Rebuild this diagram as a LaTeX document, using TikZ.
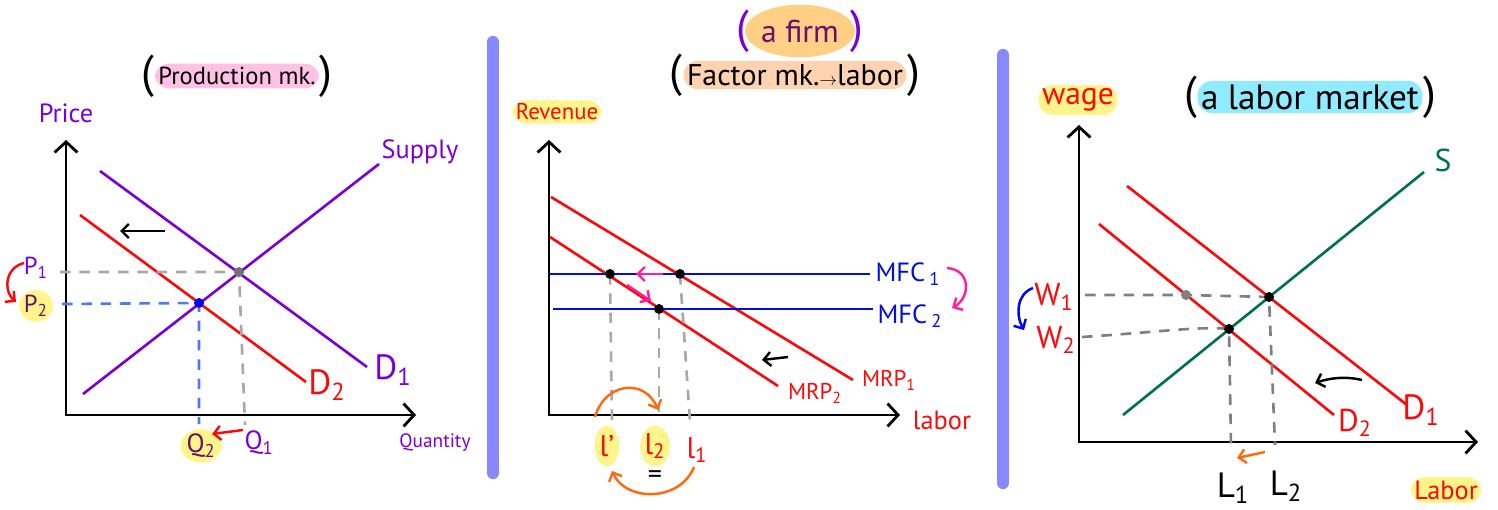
\documentclass[tikz,border=0pt]{standalone}
\usepackage{fontspec}
\setmainfont{PT Sans}
\usetikzlibrary{arrows.meta,positioning,shapes.geometric}
\definecolor{plum}{HTML}{7A00D6}
\definecolor{darkplum}{HTML}{6B0F6B}
\definecolor{redln}{HTML}{FA0A0A}
\definecolor{mfcblue}{HTML}{0010D8}
\definecolor{guidegray}{HTML}{A8A8A8}
\definecolor{darkgray}{HTML}{808080}
\definecolor{guideblue}{HTML}{5078F0}
\definecolor{greenS}{HTML}{00704F}
\definecolor{barblue}{HTML}{8888FF}
\definecolor{pinkarr}{HTML}{FF1E9E}
\definecolor{orangearr}{HTML}{FF6A10}
\definecolor{yellowhl}{HTML}{FFF58A}
\definecolor{pinkhl}{HTML}{FFC2E6}
\definecolor{peachhl}{HTML}{FFD2B0}
\definecolor{orangehl}{HTML}{FFCF85}
\definecolor{cyanhl}{HTML}{90EBFF}
\newcommand{\fsz}[1]{\fontsize{#1}{#1}\selectfont}
\begin{document}
\begin{tikzpicture}[x=0.02cm, y=-0.02cm,
  axisarr/.style={line width=1.6pt, {Straight Barb[length=6pt,width=13pt]}-{Straight Barb[length=6pt,width=13pt]}},
  schedule/.style={line width=1.5pt},
  guide/.style={line width=1.5pt, dash pattern=on 6pt off 5pt},
  dot/.style={circle, fill, inner sep=0pt, minimum size=5.5pt},
  lbl/.style={inner sep=1pt},
  hilite/.style={rounded corners=8pt, inner sep=2pt},
  blob/.style={ellipse, inner sep=0pt},
  paren/.style={font=\fsz{26}, inner sep=0pt},
  movearr/.style={line width=1.4pt, -{Straight Barb[length=4pt,width=8pt]}},
  divider/.style={line width=7pt, barblue, line cap=round}
]
\useasboundingbox (0,0) rectangle (1498,510);

% dividers
\coordinate (barAt) at (493,42);
\coordinate (barAb) at (493,473);
\coordinate (barBt) at (1003,55);
\coordinate (barBb) at (1003,483);
\draw[divider] (barAt) -- (barAb);
\draw[divider] (barBt) -- (barBb);

% production market
\node[hilite, fill=pinkhl, font=\fsz{14}] (prodT) at (237,76) {Production mk.};
\node[paren, left=0pt of prodT] (prodL) {(};
\node[paren, right=0pt of prodT] (prodR) {)};
\node[lbl, text=plum, font=\fsz{15}] (price) at (66,113) {Price};
\node[lbl, text=plum, font=\fsz{11}] (qty) at (435,443) {Quantity};

\coordinate (pTop) at (66,140);
\coordinate (pO) at (66,415);
\coordinate (qEnd) at (416,415);
\draw[axisarr] (pTop) -- (pO) -- (qEnd);

\coordinate (s0) at (83,394);
\coordinate (s1) at (379,164);
\coordinate (d1a) at (100,171);
\coordinate (d1b) at (367,367);
\coordinate (d2a) at (80,215);
\coordinate (d2b) at (306,382);
\draw[schedule, redln] (d2a) -- (d2b);
\draw[schedule, plum] (d1a) -- (d1b);
\draw[schedule, plum] (s0) -- (s1);

\node[dot, fill=darkgray!90!black] (e1) at (239,272) {};
\node[dot, fill=blue] (e2) at (199,303) {};
\coordinate (p1tick) at (60,272);
\coordinate (q1tick) at (245,425);
\coordinate (p2tick) at (62,304);
\coordinate (q2tick) at (199,424);
\draw[guide, guidegray] (p1tick) -- (e1.center) -- (q1tick);
\draw[guide, guideblue] (p2tick) -- (e2.center) -- (q2tick);
\node[dot, fill=darkgray!90!black] at (e1) {};
\node[dot, fill=blue] at (e2) {};

\node[lbl, text=plum, font=\fsz{15}] (supply) at (420,152) {Supply};
\node[lbl, text=plum, font=\fsz{20}] (dOne) at (393,370) {D\textsubscript{1}};
\node[lbl, text=redln, font=\fsz{20}] (dTwo) at (327,385) {D\textsubscript{2}};
\node[lbl, text=plum, font=\fsz{14}] (pOne) at (36,268) {P\textsubscript{1}};
\node[blob, fill=yellowhl, text=darkplum, font=\fsz{14}, minimum width=15pt, minimum height=18pt] (pTwo) at (36,306) {P\textsubscript{2}};
\node[blob, fill=yellowhl, text=darkplum, font=\fsz{15}, minimum width=15pt, minimum height=19pt] (qTwo) at (201,446) {Q\textsubscript{2}};
\node[lbl, text=plum, font=\fsz{15}] (qOne) at (259,443) {Q\textsubscript{1}};

\coordinate (dShA) at (165,231);
\coordinate (dShB) at (120,231);
\draw[movearr] (dShA) -- (dShB);
\coordinate (pArrA) at (24,263);
\coordinate (pArrB) at (16,302);
\draw[movearr, redln] (pArrA) .. controls (4,268) and (4,292) .. (pArrB);
\coordinate (qArrA) at (243,430);
\coordinate (qArrB) at (212,434);
\draw[movearr, redln] (qArrA) -- (qArrB);

% factor market, a firm
\node[ellipse, fill=orangehl, text=darkplum, font=\fsz{18}, inner sep=0pt, minimum height=30pt] (firmT) at (800,31) {a firm};
\node[paren, text=plum, left=-3pt of firmT] (firmL) {(};
\node[paren, text=plum, right=-3pt of firmT] (firmR) {)};
\node[hilite, fill=peachhl, font=\fsz{17}] (factT) at (795,75) {Factor mk.{\fsz{10}$\rightarrow$}labor};
\node[paren, left=0pt of factT] (factL) {(};
\node[paren, right=0pt of factT] (factR) {)};
\node[hilite, fill=yellowhl, text=redln, font=\fsz{13}] (rev) at (557,112) {Revenue};
\node[lbl, text=redln, font=\fsz{15}] (labM) at (942,420) {labor};

\coordinate (rTop) at (549,140);
\coordinate (rO) at (549,415);
\coordinate (lEnd) at (900,415);
\draw[axisarr] (rTop) -- (rO) -- (lEnd);

\coordinate (mrp1a) at (551,197);
\coordinate (mrp1b) at (853,380);
\coordinate (mrp2a) at (550,237);
\coordinate (mrp2b) at (778,386);
\coordinate (mfc1a) at (549,274);
\coordinate (mfc1b) at (870,274);
\coordinate (mfc2a) at (553,309);
\coordinate (mfc2b) at (873,309);
\draw[schedule, redln] (mrp1a) -- (mrp1b);
\draw[schedule, redln] (mrp2a) -- (mrp2b);
\draw[schedule, mfcblue] (mfc1a) -- (mfc1b);
\draw[schedule, mfcblue] (mfc2a) -- (mfc2b);

\node[dot, fill=black] (fA) at (610,274) {};
\node[dot, fill=black] (fB) at (680,274) {};
\node[dot, fill=black] (fC) at (659,309) {};
\coordinate (fAtick) at (612,424);
\coordinate (fBtick) at (690,422);
\coordinate (fCtick) at (659,412);
\draw[guide, guidegray] (fA.center) -- (fAtick);
\draw[guide, guidegray] (fB.center) -- (fBtick);
\draw[guide, guidegray] (fC.center) -- (fCtick);
\node[dot, fill=black] at (fA) {};
\node[dot, fill=black] at (fB) {};
\node[dot, fill=black] at (fC) {};

\node[lbl, text=mfcblue, font=\fsz{15}] (mfcOne) at (908,274) {MFC\,\textsubscript{1}};
\node[lbl, text=mfcblue, font=\fsz{15}] (mfcTwo) at (910,316) {MFC\,\textsubscript{2}};
\node[lbl, text=redln, font=\fsz{13}] (mrpOne) at (889,380) {MRP\textsubscript{1}};
\node[lbl, text=redln, font=\fsz{13}] (mrpTwo) at (815,393) {MRP\textsubscript{2}};
\node[blob, fill=yellowhl, text=redln, font=\fsz{17}, minimum width=14pt, minimum height=23pt] (lPr) at (607,446) {l'};
\node[blob, fill=yellowhl, text=redln, font=\fsz{17}, minimum width=14pt, minimum height=23pt] (lTwo) at (655,446) {l\textsubscript{2}};
\node[lbl, text=redln, font=\fsz{17}] (lOne) at (697,450) {l\textsubscript{1}};
\node[lbl, font=\fsz{16}] (eqs) at (655,477) {=};

\coordinate (pkA) at (663,274);
\coordinate (pkB) at (636,274);
\draw[movearr, pinkarr] (pkA) -- (pkB);
\coordinate (pkC) at (627,285);
\coordinate (pkD) at (651,301);
\draw[movearr, pinkarr] (pkC) -- (pkD);
\coordinate (pkE) at (947,268);
\coordinate (pkF) at (952,308);
\draw[movearr, pinkarr] (pkE) .. controls (972,270) and (970,298) .. (pkF);
\coordinate (mShA) at (788,357);
\coordinate (mShB) at (762,360);
\draw[movearr] (mShA) -- (mShB);
\coordinate (orA) at (595,417);
\coordinate (orB) at (658,410);
\draw[movearr, orangearr] (orA) .. controls (605,382) and (645,378) .. (orB);
\coordinate (orC) at (694,467);
\coordinate (orD) at (612,471);
\draw[movearr, orangearr] (orC) .. controls (680,502) and (626,502) .. (orD);

% labor market
\node[hilite, fill=yellowhl, text=redln, font=\fsz{18}] (wage) at (1078,100) {wage};
\node[hilite, fill=cyanhl, font=\fsz{20}] (lmT) at (1310,97) {a labor market};
\node[paren, left=0pt of lmT] (lmL) {(};
\node[paren, right=0pt of lmT] (lmR) {)};
\node[hilite, fill=yellowhl, text=redln, font=\fsz{15}] (labR) at (1446,490) {Labor};

\coordinate (wTop) at (1079,125);
\coordinate (wO) at (1079,442);
\coordinate (LEnd) at (1478,442);
\draw[axisarr] (wTop) -- (wO) -- (LEnd);

\coordinate (ls0) at (1123,415);
\coordinate (ls1) at (1424,172);
\coordinate (ld1a) at (1127,186);
\coordinate (ld1b) at (1407,405);
\coordinate (ld2a) at (1099,224);
\coordinate (ld2b) at (1334,415);
\draw[schedule, redln] (ld1a) -- (ld1b);
\draw[schedule, redln] (ld2a) -- (ld2b);
\draw[schedule, greenS] (ls0) -- (ls1);

\node[dot, fill=black] (lE1) at (1269,297) {};
\node[dot, fill=black] (lE2) at (1229,329) {};
\node[dot, fill=darkgray] (lG) at (1186,295) {};
\coordinate (w1tick) at (1085,295);
\coordinate (w2tick) at (1082,337);
\coordinate (L1tick) at (1231,445);
\coordinate (L2tick) at (1275,445);
\draw[guide, darkgray] (w1tick) -- (lG.center) -- (lE1.center) -- (L2tick);
\draw[guide, darkgray] (w2tick) .. controls (1160,332) and (1200,326) .. (lE2.center) -- (L1tick);
\node[dot, fill=black] at (lE1) {};
\node[dot, fill=black] at (lE2) {};
\node[dot, fill=darkgray] at (lG) {};

\node[lbl, text=greenS, font=\fsz{18}] (sLab) at (1443,160) {S};
\node[lbl, text=redln, font=\fsz{20}] (ldOne) at (1421,410) {D\textsubscript{1}};
\node[lbl, text=redln, font=\fsz{18}] (ldTwo) at (1355,423) {D\textsubscript{2}};
\node[lbl, text=redln, font=\fsz{18}] (wOne) at (1054,297) {W\textsubscript{1}};
\node[lbl, text=redln, font=\fsz{18}] (wTwo) at (1056,340) {W\textsubscript{2}};
\node[lbl, font=\fsz{20}] (LOne) at (1233,488) {L\textsubscript{1}};
\node[lbl, font=\fsz{20}] (LTwo) at (1286,486) {L\textsubscript{2}};

\coordinate (lShA) at (1362,380);
\coordinate (lShB) at (1315,383);
\draw[movearr] (lShA) .. controls (1345,376) and (1330,378) .. (lShB);
\coordinate (wArrA) at (1033,288);
\coordinate (wArrB) at (1024,330);
\draw[movearr, blue] (wArrA) .. controls (1016,294) and (1016,316) .. (wArrB);
\coordinate (LArrA) at (1265,452);
\coordinate (LArrB) at (1237,458);
\draw[movearr, orangearr] (LArrA) -- (LArrB);
\end{tikzpicture}
\end{document}
